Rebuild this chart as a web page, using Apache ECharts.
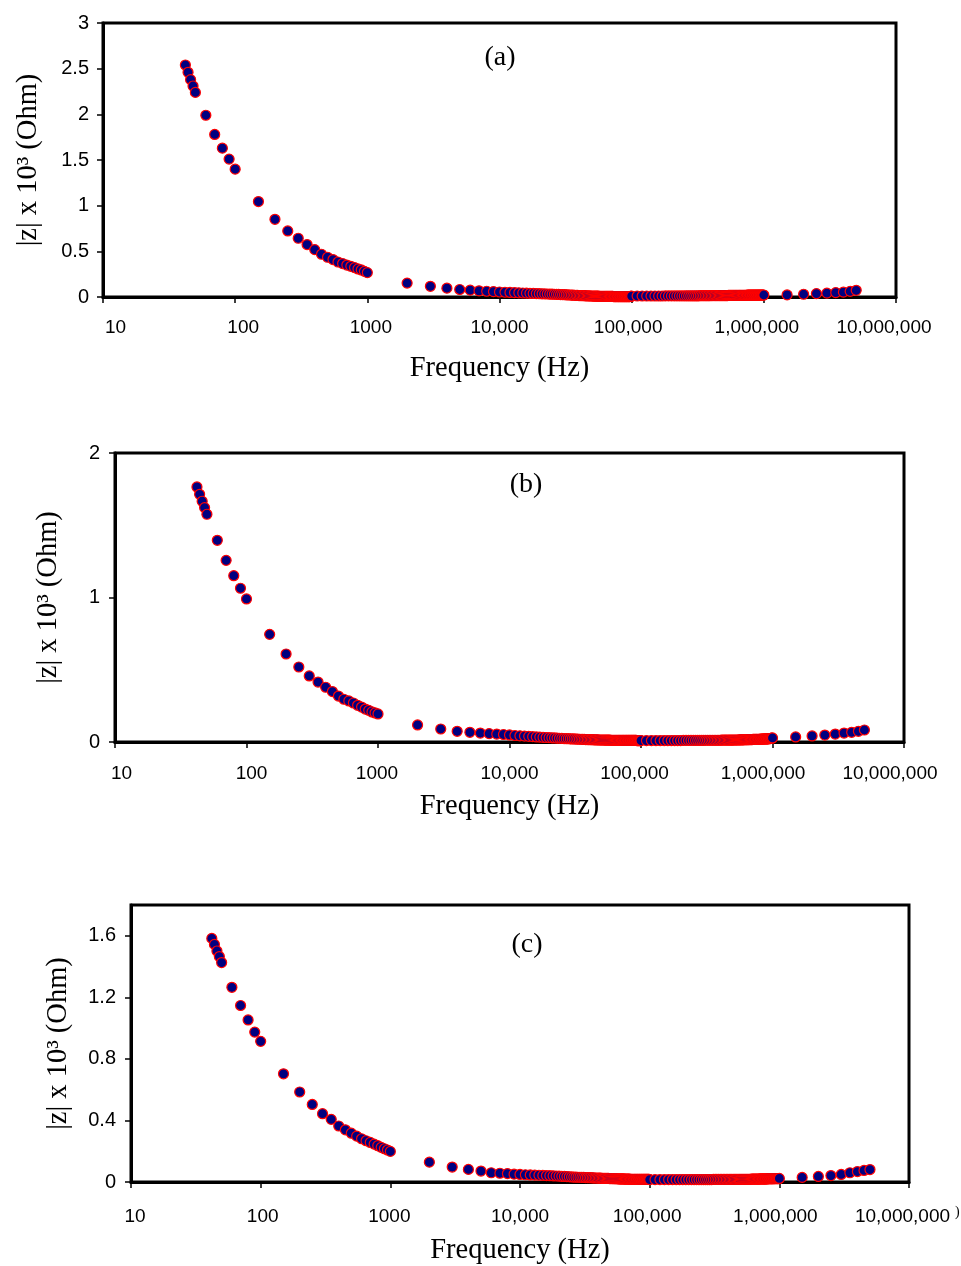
<!DOCTYPE html>
<html>
<head>
<meta charset="utf-8">
<script src="https://cdn.jsdelivr.net/npm/echarts@6/dist/echarts.min.js"></script>
<style>
html,body{margin:0;padding:0;background:#fff;}
#c{width:961px;height:1266px;}
</style>
</head>
<body>
<div id="c"></div>
<script>
// Frequency sweep (Hz), shared by the three panels
const freq = [
  42,44,46,48,50,60,70,80,90,100,
  150,200,250,300,350,400,450,500,550,600,650,700,750,800,850,900,950,1000,
  2000,3000,4000,5000,6000,7000,8000,9000,10000,
  11000,12000,13000,14000,15000,16000,17000,18000,19000,20000,
  21000,22000,23000,24000,25000,26000,27000,28000,29000,30000,
  31000,32000,33000,34000,35000,36000,37000,38000,39000,40000,
  41000,42000,43000,44000,45000,46000,47000,48000,49000,50000,
  51000,52000,53000,54000,55000,56000,57000,58000,59000,60000,
  61000,62000,63000,64000,65000,66000,67000,68000,69000,70000,
  71000,72000,73000,74000,75000,76000,77000,78000,79000,80000,
  81000,82000,83000,84000,85000,86000,87000,88000,89000,90000,
  91000,92000,93000,94000,95000,96000,97000,98000,99000,100000,
  110000,120000,130000,140000,150000,160000,170000,180000,190000,200000,
  210000,220000,230000,240000,250000,260000,270000,280000,290000,300000,
  310000,320000,330000,340000,350000,360000,370000,380000,390000,400000,
  410000,420000,430000,440000,450000,460000,470000,480000,490000,500000,
  510000,520000,530000,540000,550000,560000,570000,580000,590000,600000,
  610000,620000,630000,640000,650000,660000,670000,680000,690000,700000,
  710000,720000,730000,740000,750000,760000,770000,780000,790000,800000,
  810000,820000,830000,840000,850000,860000,870000,880000,890000,900000,
  910000,920000,930000,940000,950000,960000,970000,980000,990000,1000000,
  1500000,2000000,2500000,3000000,3500000,4000000,4500000,5000000
];

// |z| x 10^3 (Ohm), panel (a)
const zA = [
  2.54,2.46,2.38,2.31,2.24,1.99,1.78,1.63,1.51,1.40,
  1.045,0.851,0.723,0.643,0.574,0.519,0.468,0.435,0.410,0.383,0.366,0.350,0.336,0.322,0.307,0.296,0.281,0.267,
  0.152,0.117,0.097,0.082,0.075,0.068,0.063,0.059,0.055,
  0.052,0.050,0.048,0.046,0.044,0.042,0.040,0.039,0.037,0.036,
  0.035,0.034,0.033,0.032,0.031,0.030,0.029,0.028,0.027,0.026,
  0.025,0.024,0.023,0.022,0.021,0.020,0.019,0.018,0.017,0.016,
  0.015,0.015,0.014,0.014,0.013,0.013,0.012,0.012,0.011,0.011,
  0.010,0.010,0.010,0.009,0.009,0.009,0.008,0.008,0.008,0.008,
  0.007,0.007,0.007,0.007,0.007,0.006,0.006,0.006,0.006,0.006,
  0.006,0.006,0.005,0.005,0.005,0.005,0.005,0.005,0.005,0.005,
  0.005,0.005,0.005,0.005,0.005,0.005,0.005,0.005,0.005,0.005,
  0.005,0.005,0.005,0.005,0.005,0.005,0.005,0.006,0.007,0.010,
  0.011,0.011,0.011,0.011,0.011,0.011,0.011,0.012,0.012,0.012,
  0.012,0.012,0.012,0.012,0.012,0.013,0.013,0.013,0.013,0.013,
  0.013,0.013,0.014,0.014,0.014,0.014,0.014,0.014,0.014,0.015,
  0.015,0.015,0.015,0.015,0.015,0.015,0.016,0.016,0.016,0.016,
  0.016,0.016,0.016,0.017,0.017,0.017,0.017,0.017,0.017,0.017,
  0.018,0.018,0.018,0.018,0.018,0.018,0.018,0.019,0.019,0.019,
  0.019,0.019,0.019,0.019,0.020,0.020,0.020,0.020,0.020,0.020,
  0.020,0.020,0.021,0.021,0.021,0.021,0.021,0.021,0.021,0.021,
  0.021,0.021,0.021,0.022,0.022,0.022,0.022,0.022,0.022,0.022,
  0.023,0.030,0.037,0.042,0.048,0.053,0.062,0.073
];

// |z| x 10^3 (Ohm), panel (b)
const zB = [
  1.765,1.714,1.666,1.622,1.576,1.396,1.257,1.151,1.064,0.990,
  0.745,0.609,0.519,0.457,0.415,0.379,0.349,0.318,0.296,0.284,0.270,0.254,0.242,0.228,0.219,0.208,0.201,0.194,
  0.118,0.090,0.074,0.067,0.062,0.058,0.055,0.052,0.049,
  0.045,0.043,0.041,0.039,0.037,0.035,0.034,0.032,0.031,0.030,
  0.029,0.028,0.027,0.026,0.025,0.024,0.023,0.023,0.022,0.021,
  0.021,0.020,0.020,0.019,0.019,0.018,0.018,0.017,0.017,0.017,
  0.016,0.016,0.016,0.015,0.015,0.015,0.015,0.014,0.014,0.014,
  0.014,0.014,0.013,0.013,0.013,0.013,0.013,0.013,0.012,0.012,
  0.012,0.012,0.012,0.012,0.012,0.012,0.012,0.012,0.012,0.012,
  0.012,0.012,0.011,0.011,0.011,0.011,0.011,0.011,0.011,0.011,
  0.011,0.011,0.011,0.011,0.011,0.011,0.011,0.011,0.011,0.011,
  0.011,0.011,0.010,0.010,0.010,0.010,0.010,0.010,0.010,0.010,
  0.010,0.010,0.010,0.010,0.010,0.010,0.010,0.010,0.010,0.010,
  0.011,0.011,0.011,0.011,0.011,0.011,0.011,0.011,0.011,0.011,
  0.012,0.012,0.012,0.012,0.012,0.012,0.012,0.012,0.012,0.012,
  0.013,0.013,0.013,0.013,0.013,0.013,0.013,0.013,0.013,0.013,
  0.014,0.014,0.014,0.014,0.014,0.015,0.015,0.015,0.015,0.015,
  0.016,0.016,0.016,0.016,0.016,0.017,0.017,0.017,0.017,0.017,
  0.018,0.018,0.018,0.018,0.018,0.019,0.019,0.019,0.019,0.019,
  0.020,0.020,0.020,0.020,0.020,0.021,0.021,0.021,0.021,0.021,
  0.022,0.022,0.023,0.023,0.024,0.024,0.025,0.026,0.027,0.028,
  0.035,0.042,0.048,0.055,0.062,0.067,0.074,0.083
];

// |z| x 10^3 (Ohm), panel (c)
const zC = [
  1.583,1.544,1.501,1.465,1.426,1.265,1.147,1.053,0.974,0.914,
  0.703,0.585,0.504,0.444,0.407,0.364,0.339,0.317,0.298,0.281,0.268,0.257,0.246,0.236,0.225,0.216,0.208,0.199,
  0.129,0.097,0.082,0.071,0.060,0.057,0.055,0.051,0.049,
  0.047,0.046,0.045,0.044,0.043,0.042,0.041,0.040,0.039,0.038,
  0.037,0.036,0.035,0.034,0.033,0.032,0.032,0.031,0.031,0.030,
  0.030,0.029,0.029,0.028,0.028,0.027,0.027,0.026,0.026,0.025,
  0.025,0.025,0.024,0.024,0.024,0.023,0.023,0.023,0.022,0.022,
  0.022,0.022,0.021,0.021,0.021,0.021,0.021,0.020,0.020,0.020,
  0.020,0.020,0.020,0.019,0.019,0.019,0.019,0.019,0.019,0.019,
  0.018,0.018,0.018,0.018,0.018,0.018,0.018,0.018,0.018,0.018,
  0.018,0.018,0.018,0.017,0.017,0.017,0.017,0.017,0.017,0.017,
  0.017,0.017,0.017,0.017,0.017,0.017,0.017,0.017,0.017,0.016,
  0.016,0.016,0.016,0.016,0.016,0.016,0.016,0.016,0.016,0.016,
  0.016,0.016,0.016,0.016,0.016,0.016,0.016,0.016,0.016,0.016,
  0.017,0.017,0.017,0.017,0.017,0.017,0.017,0.017,0.017,0.017,
  0.017,0.017,0.017,0.017,0.017,0.017,0.017,0.017,0.017,0.017,
  0.018,0.018,0.018,0.018,0.018,0.018,0.018,0.018,0.018,0.018,
  0.019,0.019,0.019,0.019,0.019,0.019,0.019,0.019,0.019,0.019,
  0.020,0.020,0.020,0.020,0.020,0.020,0.020,0.020,0.020,0.020,
  0.021,0.021,0.021,0.021,0.021,0.021,0.021,0.021,0.021,0.021,
  0.022,0.022,0.022,0.022,0.022,0.022,0.022,0.022,0.022,0.023,
  0.030,0.036,0.042,0.049,0.060,0.068,0.075,0.081
];

const panelLabels = ['(a)', '(b)', '(c)'];
const xTickLabels = ['10', '100', '1000', '10,000', '100,000', '1,000,000', '10,000,000'];
const xTitle = 'Frequency (Hz)';
const yTitle = '|z| x 10\u00B3 (Ohm)';
const yTicksC = [0, 0.4, 0.8, 1.2, 1.6];

const seriesData = [zA, zB, zC];

// layout
const grids = [
  {left: 103, top: 23, width: 793, height: 274},
  {left: 115, top: 453, width: 789, height: 289},
  {left: 131, top: 905, width: 778, height: 279}
];
const yCfg = [
  {min: 0, max: 3, interval: 0.5, nameGap: 60, margin: 14},
  {min: 0, max: 2, interval: 1, nameGap: 52, margin: 15},
  {min: 0, max: 1.8, interval: 0.4, nameGap: 58, margin: 15, custom: yTicksC}
];
const xCfg = [
  {nameGap: 57, margin: 21},
  {nameGap: 50, margin: 22},
  {nameGap: 54, margin: 25}
];
// horizontal label shift (px) per decade label, as in the reference
const xShift = [
  [12.5, 8, 3.5, 0, -3.5, -7, -12],
  [6.5, 5, -1, 0, -6.5, -9.5, -14],
  [4, 2, -1, 0, -2.5, -4, -6.5]
];
const labelPos = [[500, 58], [526, 485], [527, 945]];

const serif = 'Liberation Serif, Times New Roman, serif';
const sans = 'Liberation Sans, Arial, sans-serif';

function richFor(i) {
  const r = {};
  xShift[i].forEach((dx, k) => {
    r['s' + k] = {
      color: '#000', fontFamily: sans, fontSize: 19,
      padding: dx >= 0 ? [0, 0, 0, 2 * dx] : [0, -2 * dx, 0, 0]
    };
  });
  return r;
}

const chart = echarts.init(document.getElementById('c'), null, {renderer: 'canvas'});

const option = {
  animation: false,
  backgroundColor: '#fff',
  grid: grids.map(g => Object.assign({show: true, borderColor: '#000', borderWidth: 3, backgroundColor: 'transparent', containLabel: false}, g)),
  xAxis: grids.map((g, i) => ({
    type: 'log',
    logBase: 10,
    gridIndex: i,
    min: 10,
    max: 10000000,
    position: 'bottom',
    axisLine: {show: true, onZero: false, lineStyle: {color: '#000', width: 3}},
    axisTick: {show: true, inside: false, length: 6, lineStyle: {color: '#000', width: 1.5}},
    minorTick: {show: false},
    splitLine: {show: false},
    axisLabel: {
      show: true,
      margin: xCfg[i].margin,
      color: '#000',
      fontFamily: sans,
      fontSize: 19,
      showMinLabel: true,
      showMaxLabel: true,
      hideOverlap: false,
      rich: richFor(i),
      formatter: v => {
        const k = Math.round(Math.log10(v)) - 1;
        return xTickLabels[k] !== undefined ? '{s' + k + '|' + xTickLabels[k] + '}' : '';
      }
    },
    name: xTitle,
    nameLocation: 'middle',
    nameGap: xCfg[i].nameGap,
    nameTextStyle: {color: '#000', fontFamily: serif, fontSize: 28.5}
  })),
  yAxis: grids.map((g, i) => {
    const c = yCfg[i];
    const ax = {
      type: 'value',
      gridIndex: i,
      min: c.min,
      max: c.max,
      interval: c.interval,
      axisLine: {show: true, onZero: false, lineStyle: {color: '#000', width: 3}},
      axisTick: {show: true, inside: false, length: 6, lineStyle: {color: '#000', width: 1.5}},
      splitLine: {show: false},
      axisLabel: {show: true, margin: c.margin, color: '#000', fontFamily: sans, fontSize: 20},
      name: yTitle,
      nameLocation: 'middle',
      nameRotate: 90,
      nameGap: c.nameGap,
      nameTextStyle: {color: '#000', fontFamily: serif, fontSize: 28.5}
    };
    if (c.custom) {
      ax.axisLabel.customValues = c.custom;
      ax.axisTick.customValues = c.custom;
    }
    return ax;
  }),
  series: seriesData.map((arr, i) => ({
    type: 'scatter',
    xAxisIndex: i,
    yAxisIndex: i,
    clip: false,
    silent: true,
    symbol: 'circle',
    symbolSize: 10,
    itemStyle: {color: '#000080', borderColor: '#ff0000', borderWidth: 1.2, opacity: 1},
    emphasis: {disabled: true},
    large: false,
    progressive: 0,
    data: freq.map((f, j) => [f, arr[j]])
  })),
  graphic: panelLabels.map((t, i) => ({
    type: 'text',
    x: labelPos[i][0],
    y: labelPos[i][1],
    silent: true,
    style: {text: t, fill: '#000', font: '28px ' + serif, textAlign: 'center', textVerticalAlign: 'middle'}
  })).concat([{
    type: 'text',
    x: 955,
    y: 1212,
    silent: true,
    style: {text: ')', fill: '#000', font: '14px ' + serif, textAlign: 'left', textVerticalAlign: 'middle'}
  }])
};

chart.setOption(option);
</script>
</body>
</html>
